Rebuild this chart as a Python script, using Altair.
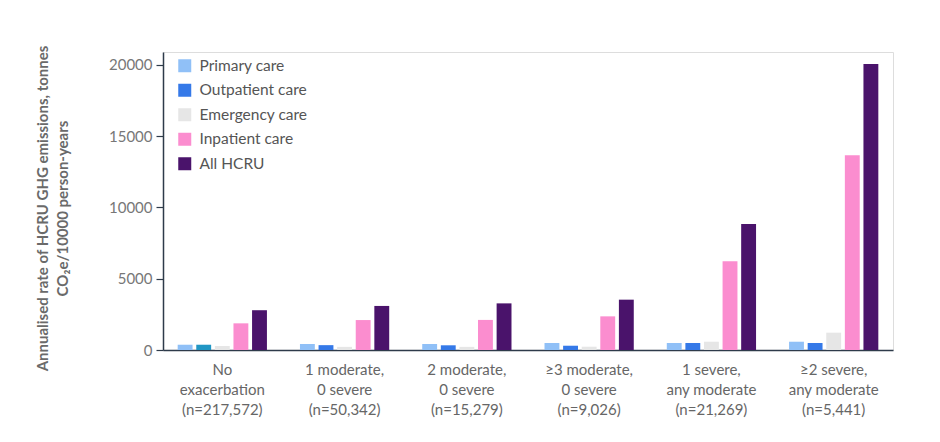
import altair as alt
import pandas as pd

groups = [
    "No\nexacerbation\n(n=217,572)",
    "1 moderate,\n0 severe\n(n=50,342)",
    "2 moderate,\n0 severe\n(n=15,279)",
    "≥3 moderate,\n0 severe\n(n=9,026)",
    "1 severe,\nany moderate\n(n=21,269)",
    "≥2 severe,\nany moderate\n(n=5,441)",
]
series = ["Primary care", "Outpatient care", "Emergency care", "Inpatient care", "All HCRU"]
colors = ["#90c0f7", "#3579e8", "#e6e6e6", "#fb8dcf", "#4a136b"]

primary = [370, 420, 420, 490, 490, 580]
outpatient = [370, 340, 330, 300, 490, 490]
emergency = [280, 220, 220, 230, 580, 1215]
inpatient = [1870, 2100, 2110, 2360, 6220, 13660]
all_hcru = [2790, 3090, 3270, 3530, 8840, 20050]

vals = [primary, outpatient, emergency, inpatient, all_hcru]
rows = []
for s, v in zip(series, vals):
    for g, x in zip(groups, v):
        rows.append({"group": g, "series": s, "value": x})
df = pd.DataFrame(rows)

FONT = "Lato"
AXIS_COLOR = "#2e3b4a"

chart = alt.Chart(df).mark_bar().encode(
    x=alt.X("group:N", sort=groups,
            scale=alt.Scale(paddingInner=0.27, paddingOuter=0.12),
            axis=alt.Axis(title=None, labelAngle=0, ticks=False,
                          labelExpr="split(datum.label, '\\n')",
                          labelFontSize=15, labelColor="#666666", labelFont=FONT,
                          labelLineHeight=20, labelPadding=12,
                          domainColor=AXIS_COLOR, domainWidth=1.5)),
    xOffset=alt.XOffset("series:N", sort=series, scale=alt.Scale(paddingInner=0.2)),
    y=alt.Y("value:Q",
            scale=alt.Scale(domain=[0, 20900], nice=False),
            axis=alt.Axis(values=[0, 5000, 10000, 15000, 20000], format="d",
                          grid=False, tickSize=7, tickColor=AXIS_COLOR, tickWidth=1.2,
                          domainColor=AXIS_COLOR, domainWidth=1.5,
                          labelFontSize=15, labelColor="#777777", labelFont=FONT,
                          labelPadding=4,
                          title=["Annualised rate of HCRU GHG emissions, tonnes",
                                 "CO₂e/10000 person-years"],
                          titleFont=FONT, titleFontSize=15, titleFontWeight="bold",
                          titleColor="#6a6a6a", titlePadding=38, titleLineHeight=20,
                          titleY=156)),
    color=alt.condition(
        "datum.series == 'Outpatient care' && indexof(datum.group, 'No') == 0",
        alt.value("#2196c4"),
        alt.Color("series:N", sort=series,
                  scale=alt.Scale(domain=series, range=colors),
                  legend=alt.Legend(title=None, orient="none", legendX=14, legendY=6,
                                    symbolType="square", symbolSize=169,
                                    symbolStrokeWidth=0, symbolOpacity=1,
                                    labelFontSize=15.5, labelColor="#555555",
                                    labelFont=FONT, labelOffset=7, rowPadding=7.5)),
    ),
).properties(
    width=730,
    height=298,
    autosize=alt.AutoSizeParams(type="none"),
    padding={"left": 155, "top": 44, "right": 30, "bottom": 80},
).configure_view(stroke=None).configure(font=FONT)

chart.save("out.html", embed_options={"renderer": "svg", "actions": False})
